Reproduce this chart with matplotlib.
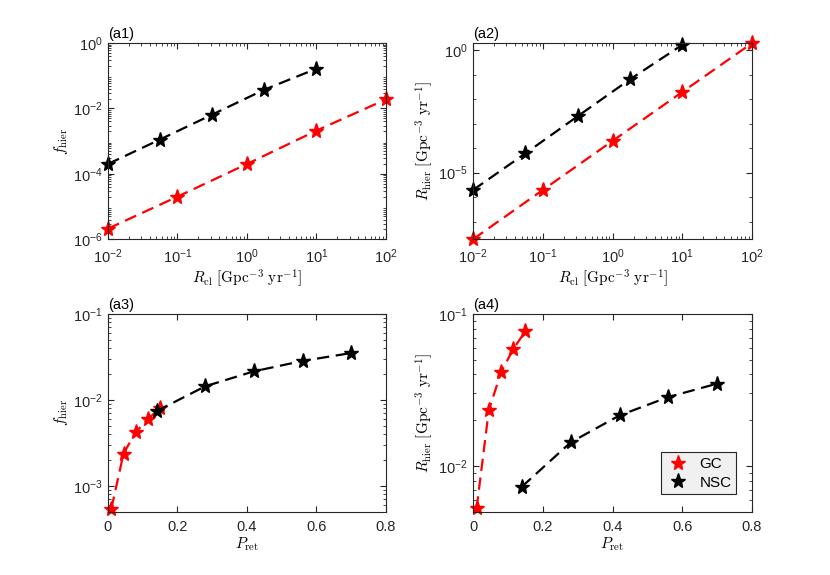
import numpy as np
import matplotlib
matplotlib.use("Agg")
import matplotlib.pyplot as plt
from matplotlib.ticker import LogLocator, NullFormatter, FixedLocator

plt.rcParams['font.family'] = ['Liberation Sans', 'DejaVu Sans']
plt.rcParams['mathtext.fontset'] = 'cm'

# R_cl values (Gpc^-3 yr^-1)
rcl_gc = [0.01, 0.1, 1.0, 10.0, 100.0]
rcl_nsc = [0.01, 0.056, 0.316, 1.78, 10.0]

# (a1) f_hier vs R_cl
fh_gc_a1 = [2.1e-6, 2.0e-5, 2.0e-4, 2.1e-3, 1.9e-2]
fh_nsc_a1 = [2.0e-4, 1.12e-3, 6.5e-3, 3.77e-2, 1.65e-1]

# (a2) R_hier vs R_cl
rh_gc_a2 = [1.9e-8, 1.96e-6, 2.0e-4, 2.0e-2, 2.0]
rh_nsc_a2 = [1.96e-6, 6.1e-5, 2.04e-3, 6.6e-2, 1.7]

# P_ret values
pret_gc = [0.01, 0.045, 0.08, 0.115, 0.15]
pret_nsc = [0.14, 0.28, 0.42, 0.56, 0.70]

# (a3) f_hier vs P_ret
fh_gc_a3 = [5.45e-4, 2.38e-3, 4.2e-3, 6.0e-3, 8.0e-3]
fh_nsc_a3 = [7.4e-3, 1.44e-2, 2.15e-2, 2.84e-2, 3.51e-2]

# (a4) R_hier vs P_ret
rh_gc_a4 = [5.26e-3, 2.32e-2, 4.12e-2, 5.87e-2, 7.69e-2]
rh_nsc_a4 = [7.31e-3, 1.43e-2, 2.15e-2, 2.84e-2, 3.48e-2]

edge = '#262626'
rlab = r'$R_{\rm cl}\ [{\rm Gpc}^{-3}\ {\rm yr}^{-1}]$'
hlab = r'$R_{\rm hier}\ [{\rm Gpc}^{-3}\ {\rm yr}^{-1}]$'

fig = plt.figure(figsize=(8.3, 5.75), dpi=100)
pos = {
    'a1': [0.130, 0.584, 0.335, 0.341],
    'a2': [0.570, 0.584, 0.336, 0.341],
    'a3': [0.130, 0.110, 0.335, 0.344],
    'a4': [0.570, 0.110, 0.336, 0.344],
}


def style(ax, name):
    for s in ax.spines.values():
        s.set_color(edge)
        s.set_linewidth(0.8)
    ax.tick_params(which='both', direction='in', top=True, right=True,
                   colors=edge, labelsize=10.5, labelcolor=edge)
    ax.tick_params(which='major', length=4)
    ax.tick_params(which='minor', length=2)
    ax.tick_params(axis='x', which='both', pad=6)
    ax.tick_params(axis='y', which='both', pad=4)
    ax.text(0.0, 1.01, '(' + name + ')', transform=ax.transAxes,
            ha='left', va='bottom', fontsize=10.5, color='black')


def draw(ax, xg, yg, xn, yn):
    kw = dict(linestyle='--', dashes=(5.5, 3), linewidth=1.6,
              marker='*', markersize=11, clip_on=False)
    ax.plot(xg, yg, color='red', label='GC', **kw)
    ax.plot(xn, yn, color='black', label='NSC', **kw)


# (a1)
ax = fig.add_axes(pos['a1'])
draw(ax, rcl_gc, fh_gc_a1, rcl_nsc, fh_nsc_a1)
ax.set_xscale('log')
ax.set_yscale('log')
ax.set_xlim(1e-2, 1e2)
ax.set_ylim(1e-6, 1e0)
ax.yaxis.set_major_locator(FixedLocator([1e-6, 1e-4, 1e-2, 1e0]))
ax.yaxis.set_minor_locator(LogLocator(base=10, subs=np.arange(2, 10), numticks=20))
ax.xaxis.set_minor_locator(LogLocator(base=10, subs=np.arange(2, 10), numticks=20))
ax.yaxis.set_minor_formatter(NullFormatter())
ax.set_xlabel(rlab, fontsize=11, labelpad=1)
ax.set_ylabel(r'$f_{\rm hier}$', fontsize=11, labelpad=2)
style(ax, 'a1')

# (a2)
ax = fig.add_axes(pos['a2'])
draw(ax, rcl_gc, rh_gc_a2, rcl_nsc, rh_nsc_a2)
ax.set_xscale('log')
ax.set_yscale('log')
ax.set_xlim(1e-2, 1e2)
ax.set_ylim(min(rh_gc_a2), max(rh_gc_a2))
ax.yaxis.set_major_locator(FixedLocator([1e-5, 1e0]))
ax.yaxis.set_minor_locator(FixedLocator([10.0 ** k for k in range(-8, 1)]))
ax.yaxis.set_minor_formatter(NullFormatter())
ax.xaxis.set_minor_locator(LogLocator(base=10, subs=np.arange(2, 10), numticks=20))
ax.set_xlabel(rlab, fontsize=11, labelpad=1)
ax.set_ylabel(hlab, fontsize=11, labelpad=2)
style(ax, 'a2')

# (a3)
ax = fig.add_axes(pos['a3'])
draw(ax, pret_gc, fh_gc_a3, pret_nsc, fh_nsc_a3)
ax.set_yscale('log')
ax.set_xlim(0, 0.8)
ax.set_ylim(5e-4, 1e-1)
ax.set_xticks([0, 0.2, 0.4, 0.6, 0.8])
ax.set_xticklabels(['0', '0.2', '0.4', '0.6', '0.8'])
ax.yaxis.set_minor_locator(LogLocator(base=10, subs=np.arange(2, 10), numticks=20))
ax.yaxis.set_minor_formatter(NullFormatter())
ax.set_xlabel(r'$P_{\rm ret}$', fontsize=11, labelpad=1)
ax.set_ylabel(r'$f_{\rm hier}$', fontsize=11, labelpad=2)
style(ax, 'a3')

# (a4)
ax = fig.add_axes(pos['a4'])
draw(ax, pret_gc, rh_gc_a4, pret_nsc, rh_nsc_a4)
ax.set_yscale('log')
ax.set_xlim(0, 0.8)
ax.set_ylim(5e-3, 1e-1)
ax.set_xticks([0, 0.2, 0.4, 0.6, 0.8])
ax.set_xticklabels(['0', '0.2', '0.4', '0.6', '0.8'])
ax.yaxis.set_major_locator(FixedLocator([1e-2, 1e-1]))
ax.yaxis.set_minor_locator(LogLocator(base=10, subs=np.arange(2, 10), numticks=20))
ax.yaxis.set_minor_formatter(NullFormatter())
ax.set_xlabel(r'$P_{\rm ret}$', fontsize=11, labelpad=1)
ax.set_ylabel(hlab, fontsize=11, labelpad=2)
style(ax, 'a4')

labels = ['GC', 'NSC']
leg = ax.legend(handles=[plt.Line2D([], [], color=c, marker='*', markersize=11, linestyle='none')
                         for c in ['red', 'black']],
                labels=labels, loc='lower right', bbox_to_anchor=(0.97, 0.05),
                fontsize=11, fancybox=False, framealpha=1, borderpad=0.3,
                handletextpad=0.6, labelspacing=0.3, handlelength=1.6)
leg.get_frame().set_facecolor('#f0f0f0')
leg.get_frame().set_edgecolor(edge)
leg.get_frame().set_linewidth(0.8)

fig.savefig('out.png', dpi=100)
